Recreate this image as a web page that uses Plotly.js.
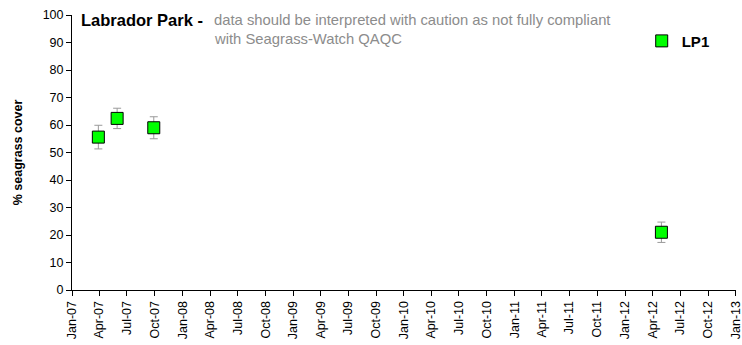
<!DOCTYPE html>
<html>
<head>
<meta charset="utf-8">
<script src="https://cdn.plot.ly/plotly-3.0.1.min.js"></script>
<style>
  html, body { margin: 0; padding: 0; background: #fff; }
  #chart { width: 742px; height: 345px; }
</style>
</head>
<body>
<div id="chart"></div>
<script>
// Seagrass cover survey results, site LP1
const surveyDates = ['2007-03-29', '2007-05-30', '2007-09-28', '2012-04-30'];
const coverMean = [55.6, 62.4, 59.0, 21.0];
const coverSE = [4.3, 3.7, 4.0, 3.7];
const seriesName = 'LP1';

// Quarterly ticks along the date axis
const tickDates = [
  '2007-01-01', '2007-04-01', '2007-07-01', '2007-10-01',
  '2008-01-01', '2008-04-01', '2008-07-01', '2008-10-01',
  '2009-01-01', '2009-04-01', '2009-07-01', '2009-10-01',
  '2010-01-01', '2010-04-01', '2010-07-01', '2010-10-01',
  '2011-01-01', '2011-04-01', '2011-07-01', '2011-10-01',
  '2012-01-01', '2012-04-01', '2012-07-01', '2012-10-01',
  '2013-01-01'
];
const tickLabels = [
  'Jan-07', 'Apr-07', 'Jul-07', 'Oct-07',
  'Jan-08', 'Apr-08', 'Jul-08', 'Oct-08',
  'Jan-09', 'Apr-09', 'Jul-09', 'Oct-09',
  'Jan-10', 'Apr-10', 'Jul-10', 'Oct-10',
  'Jan-11', 'Apr-11', 'Jul-11', 'Oct-11',
  'Jan-12', 'Apr-12', 'Jul-12', 'Oct-12',
  'Jan-13'
];

const FONT = 'Liberation Sans, Arial, sans-serif';

const trace = {
  type: 'scatter',
  mode: 'markers',
  name: seriesName,
  x: surveyDates,
  y: coverMean,
  error_y: {
    type: 'data',
    array: coverSE,
    visible: true,
    color: '#9a9a9a',
    thickness: 1,
    width: 4
  },
  marker: {
    symbol: 'square',
    size: 12,
    color: '#00ff00',
    line: { color: '#000000', width: 1 }
  }
};

const layout = {
  width: 742,
  height: 345,
  margin: { l: 72, r: 6, t: 15, b: 55, pad: 0 },
  paper_bgcolor: '#ffffff',
  plot_bgcolor: '#ffffff',
  font: { family: FONT, color: '#000000', size: 12.5 },
  showlegend: true,
  legend: {
    x: 0.858, y: 0.905, xanchor: 'left', yanchor: 'middle',
    bgcolor: 'rgba(0,0,0,0)',
    font: { family: FONT, size: 15, color: '#000000', weight: 'bold' },
    itemwidth: 30
  },
  xaxis: {
    type: 'date',
    // end a few hours past the last quarter so its tick is kept
    range: ['2007-01-01', '2013-01-01 06:00'],
    tickmode: 'array',
    tickvals: tickDates,
    ticktext: tickLabels,
    tickangle: -90,
    ticklabeloverflow: 'allow',
    ticks: 'outside',
    ticklen: 5,
    tickcolor: '#000000',
    showline: true,
    linecolor: '#000000',
    linewidth: 1,
    showgrid: false,
    zeroline: false,
    tickfont: { family: FONT, size: 12.5, color: '#000000' }
  },
  yaxis: {
    range: [0, 100],
    tickmode: 'linear',
    tick0: 0,
    dtick: 10,
    ticks: 'outside',
    ticklen: 5,
    tickcolor: '#000000',
    showline: true,
    linecolor: '#000000',
    linewidth: 1,
    showgrid: false,
    zeroline: false,
    tickfont: { family: FONT, size: 12.5, color: '#000000' },
    title: {
      text: '% seagrass cover',
      font: { family: FONT, size: 12.5, color: '#000000', weight: 'bold' },
      standoff: 17
    }
  },
  annotations: [
    {
      xref: 'paper', yref: 'paper',
      x: 0.011, y: 0.982, xanchor: 'left', yanchor: 'middle',
      text: '<b>Labrador Park -</b>',
      showarrow: false,
      font: { family: FONT, size: 16.5, color: '#000000' }
    },
    {
      xref: 'paper', yref: 'paper',
      x: 0.2108, y: 0.982, xanchor: 'left', yanchor: 'middle',
      text: 'data should be interpreted with caution as not fully compliant',
      showarrow: false,
      font: { family: FONT, size: 14.8, color: '#8c8c8c' }
    },
    {
      xref: 'paper', yref: 'paper',
      x: 0.2108, y: 0.913, xanchor: 'left', yanchor: 'middle',
      text: 'with Seagrass-Watch QAQC',
      showarrow: false,
      font: { family: FONT, size: 14.8, color: '#8c8c8c' }
    }
  ]
};

Plotly.newPlot('chart', [trace], layout, { displayModeBar: false, staticPlot: true });
</script>
</body>
</html>
